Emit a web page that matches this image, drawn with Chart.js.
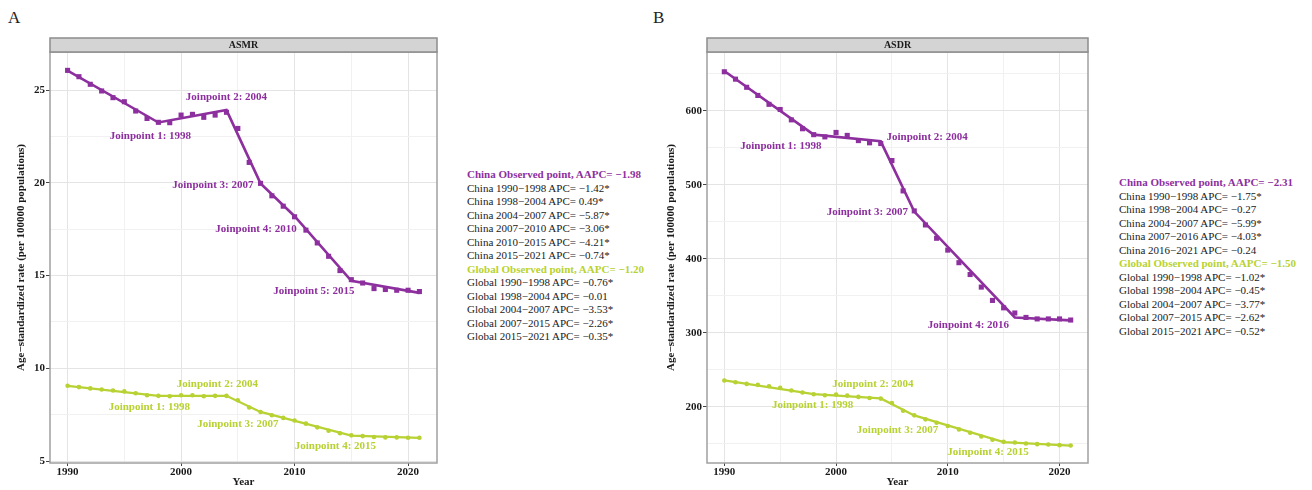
<!DOCTYPE html>
<html>
<head>
<meta charset="utf-8">
<script src="https://cdn.jsdelivr.net/npm/chart.js@4.4.0/dist/chart.umd.min.js"></script>
<style>
  body { margin: 0; background: #fff; width: 1312px; height: 490px; position: relative; overflow: hidden;
         font-family: "Liberation Serif", "Times New Roman", serif; }
  canvas { position: absolute; top: 0; }
  #cA { left: 0; }
  #cB { left: 650px; }
  .tag { position: absolute; top: 8px; font-size: 17px; color: #222; }
  .leg { position: absolute; font-size: 11px; line-height: 13.5px; color: #1a1a1a; white-space: nowrap; }
  .leg .obs { font-weight: bold; }
</style>
</head>
<body>
<div class="tag" style="left:8px">A</div>
<div class="tag" style="left:653px">B</div>
<canvas id="cA" width="445" height="490"></canvas>
<canvas id="cB" width="445" height="490"></canvas>
<div class="leg" id="legA" style="left:467px; top:168px"></div>
<div class="leg" id="legB" style="left:1119px; top:176px"></div>
<script>
const PURPLE = '#8d2f9e';
const GREEN = '#b7d232';
const FONT = '"Liberation Serif", "Times New Roman", serif';

const years = [1990, 1991, 1992, 1993, 1994, 1995, 1996, 1997, 1998, 1999, 2000, 2001, 2002, 2003, 2004, 2005,
               2006, 2007, 2008, 2009, 2010, 2011, 2012, 2013, 2014, 2015, 2016, 2017, 2018, 2019, 2020, 2021];
const xTicks = [1990, 1995, 2000, 2005, 2010, 2015, 2020];

// ASMR (panel A)
const chinaAsmr = [26.06, 25.72, 25.31, 24.95, 24.59, 24.37, 23.87, 23.47, 23.26, 23.24, 23.65, 23.69, 23.53, 23.65, 23.80, 22.93,
                   21.10, 19.97, 19.30, 18.74, 18.17, 17.45, 16.76, 16.04, 15.27, 14.78, 14.60, 14.30, 14.25, 14.21, 14.21, 14.14];
const chinaAsmrFitYears = [1990, 1998, 2004, 2007, 2010, 2015, 2021];
const chinaAsmrFit = [26.05, 23.25, 23.92, 19.97, 18.20, 14.72, 14.07];
const globalAsmr = [9.06, 8.99, 8.92, 8.86, 8.81, 8.76, 8.66, 8.55, 8.52, 8.50, 8.55, 8.55, 8.50, 8.52, 8.52, 8.28,
                    7.89, 7.65, 7.47, 7.33, 7.19, 7.02, 6.82, 6.64, 6.50, 6.39, 6.35, 6.30, 6.28, 6.28, 6.26, 6.26];
const globalAsmrFitYears = [1990, 1998, 2004, 2007, 2015, 2021];
const globalAsmrFit = [9.06, 8.52, 8.52, 7.65, 6.38, 6.25];
const asmrTicks = [5, 7.5, 10, 12.5, 15, 17.5, 20, 22.5, 25];

// ASDR (panel B)
const chinaAsdr = [653, 643, 632, 621, 609, 602, 588, 576, 568, 565, 571, 567, 560, 557, 556, 533,
                   492, 465, 446, 428, 412, 395, 379, 362, 344, 334, 327, 321, 319, 319, 319, 317.5];
const chinaAsdrFitYears = [1990, 1998, 2004, 2007, 2016, 2021];
const chinaAsdrFit = [654, 568, 559, 464, 321, 317];
const globalAsdr = [235.7, 233.5, 231.2, 229.9, 228.0, 225.8, 222.2, 219.5, 217.2, 215.8, 216.7, 215.4, 213.6, 212.2, 211.3, 205.4,
                    195.0, 188.7, 183.3, 178.7, 174.2, 169.7, 165.2, 160.2, 155.7, 152.9, 152.0, 150.7, 149.8, 149.3, 148.4, 148.0];
const globalAsdrFitYears = [1990, 1998, 2004, 2007, 2015, 2021];
const globalAsdrFit = [236, 217.4, 211.6, 188.6, 152.5, 147.8];
const asdrTicks = [150, 200, 250, 300, 350, 400, 450, 500, 550, 600, 650];

// joinpoint annotations: text, year, value
const asmrChinaLabels = [['Joinpoint 1: 1998', 1997.3, 22.53], ['Joinpoint 2: 2004', 2004.0, 24.6], ['Joinpoint 3: 2007', 2002.8, 19.88],
                         ['Joinpoint 4: 2010', 2006.6, 17.49], ['Joinpoint 5: 2015', 2011.7, 14.15]];
const asmrGlobalLabels = [['Joinpoint 1: 1998', 1997.2, 7.92], ['Joinpoint 2: 2004', 2003.2, 9.13], ['Joinpoint 3: 2007', 2005.0, 6.97],
                          ['Joinpoint 4: 2015', 2013.6, 5.81]];
const asdrChinaLabels = [['Joinpoint 1: 1998', 1995.06, 551.8], ['Joinpoint 2: 2004', 2008.15, 565.3], ['Joinpoint 3: 2007', 2002.8, 463.5],
                         ['Joinpoint 4: 2016', 2011.85, 310.8]];
const asdrGlobalLabels = [['Joinpoint 1: 1998', 1997.9, 202.7], ['Joinpoint 2: 2004', 2003.3, 230.7], ['Joinpoint 3: 2007', 2005.5, 168.5],
                          ['Joinpoint 4: 2015', 2013.6, 139.6]];

const legendA = ['China Observed point, AAPC= \u22121.98', 'China 1990\u22121998 APC= \u22121.42*', 'China 1998\u22122004 APC= 0.49*',
  'China 2004\u22122007 APC= \u22125.87*', 'China 2007\u22122010 APC= \u22123.06*', 'China 2010\u22122015 APC= \u22124.21*',
  'China 2015\u22122021 APC= \u22120.74*', 'Global Observed point, AAPC= \u22121.20', 'Global 1990\u22121998 APC= \u22120.76*',
  'Global 1998\u22122004 APC= \u22120.01', 'Global 2004\u22122007 APC= \u22123.53*', 'Global 2007\u22122015 APC= \u22122.26*',
  'Global 2015\u22122021 APC= \u22120.35*'];
const legendB = ['China Observed point, AAPC= \u22122.31', 'China 1990\u22121998 APC= \u22121.75*', 'China 1998\u22122004 APC= \u22120.27',
  'China 2004\u22122007 APC= \u22125.99*', 'China 2007\u22122016 APC= \u22124.03*', 'China 2016\u22122021 APC= \u22120.24',
  'Global Observed point, AAPC= \u22121.50', 'Global 1990\u22121998 APC= \u22121.02*', 'Global 1998\u22122004 APC= \u22120.45*',
  'Global 2004\u22122007 APC= \u22123.77*', 'Global 2007\u22122015 APC= \u22122.62*', 'Global 2015\u22122021 APC= \u22120.52*'];

function fillLegend(id, lines) {
  const el = document.getElementById(id);
  lines.forEach(t => {
    const d = document.createElement('div');
    d.textContent = t;
    if (t.includes('Observed')) {
      d.className = 'obs';
      d.style.color = t.startsWith('China') ? PURPLE : GREEN;
    }
    el.appendChild(d);
  });
}
fillLegend('legA', legendA);
fillLegend('legB', legendB);

const pts = (xs, ys) => xs.map((x, i) => ({ x: x, y: ys[i] }));

function decoPlugin(strip, labelSets) {
  return {
    id: 'panelDeco',
    afterDraw(chart) {
      const { ctx, chartArea: a, scales: { x, y } } = chart;
      ctx.save();
      ctx.strokeStyle = '#a0a0a0';
      ctx.lineWidth = 1.5;
      ctx.strokeRect(a.left, a.top, a.right - a.left, a.bottom - a.top);
      // facet strip
      ctx.fillStyle = '#d4d4d4';
      ctx.fillRect(a.left, a.top - 14, a.right - a.left, 14);
      ctx.strokeStyle = '#8c8c8c';
      ctx.strokeRect(a.left, a.top - 14, a.right - a.left, 14);
      ctx.fillStyle = '#1a1a1a';
      ctx.font = 'bold 10px ' + FONT;
      ctx.textAlign = 'center';
      ctx.textBaseline = 'middle';
      ctx.fillText(strip, (a.left + a.right) / 2, a.top - 6.5);
      // joinpoint labels
      ctx.font = 'bold 11px ' + FONT;
      labelSets.forEach(([labels, col]) => {
        ctx.fillStyle = col;
        labels.forEach(([t, lx, ly]) => ctx.fillText(t, x.getPixelForValue(lx), y.getPixelForValue(ly)));
      });
      ctx.restore();
    }
  };
}

function makeChart(id, opt) {
  const tickFont = { family: FONT, weight: 'bold', size: 11 };
  return new Chart(document.getElementById(id), {
    type: 'line',
    data: {
      datasets: [
        { data: pts(years, opt.china), showLine: false, pointStyle: 'rect', pointRadius: 3.6,
          backgroundColor: PURPLE, borderColor: PURPLE, pointBorderWidth: 0 },
        { data: pts(years, opt.global), showLine: false, pointStyle: 'circle', pointRadius: 2.3,
          backgroundColor: GREEN, borderColor: GREEN, pointBorderWidth: 0 },
        { data: pts(opt.chinaFitYears, opt.chinaFit), borderColor: PURPLE, borderWidth: 2.6, pointRadius: 0, tension: 0 },
        { data: pts(opt.globalFitYears, opt.globalFit), borderColor: GREEN, borderWidth: 2.3, pointRadius: 0, tension: 0 }
      ]
    },
    options: {
      responsive: false,
      animation: false,
      devicePixelRatio: 1,
      layout: { padding: { top: 52, right: opt.padRight, bottom: 0, left: 0 } },
      plugins: { legend: { display: false }, tooltip: { enabled: false } },
      scales: {
        x: {
          type: 'linear', min: 1988.45, max: 2022.55,
          afterBuildTicks: s => { s.ticks = xTicks.map(v => ({ value: v })); },
          afterFit: s => { s.height = 27; },
          ticks: { callback: v => (v % 10 === 0 ? String(v) : ''), autoSkip: false, maxRotation: 0,
                   color: '#1a1a1a', font: tickFont, padding: 0 },
          grid: { color: c => (c.tick && c.tick.value % 10 === 0 ? '#e4e4e4' : '#f1f1f1'),
                  tickColor: c => (c.tick && c.tick.value % 10 === 0 ? '#444' : 'rgba(0,0,0,0)'), tickLength: 3 },
          border: { display: false },
          title: { display: true, text: 'Year', color: '#1a1a1a', font: tickFont, padding: { top: 0, bottom: 1.5 } }
        },
        y: {
          type: 'linear', min: opt.yMin, max: opt.yMax,
          afterBuildTicks: s => { s.ticks = opt.yTicks.map(v => ({ value: v })); },
          afterFit: s => { s.width = opt.yWidth; },
          ticks: { callback: v => (v % opt.yMajor === 0 ? String(v) : ''), autoSkip: false,
                   color: '#1a1a1a', font: tickFont, padding: 1 },
          grid: { color: c => (c.tick && c.tick.value % opt.yMajor === 0 ? '#e4e4e4' : '#f1f1f1'),
                  tickColor: c => (c.tick && c.tick.value % opt.yMajor === 0 ? '#444' : 'rgba(0,0,0,0)'), tickLength: 4 },
          border: { display: false },
          title: { display: true, text: 'Age\u2212standardized rate (per 100000 populations)', color: '#1a1a1a',
                   font: tickFont, padding: { top: opt.titlePad, bottom: 0 } }
        }
      }
    },
    plugins: [decoPlugin(opt.strip, [[opt.chinaLabels, PURPLE], [opt.globalLabels, GREEN]])]
  });
}

makeChart('cA', {
  china: chinaAsmr, global: globalAsmr,
  chinaFitYears: chinaAsmrFitYears, chinaFit: chinaAsmrFit,
  globalFitYears: globalAsmrFitYears, globalFit: globalAsmrFit,
  yMin: 4.9, yMax: 27.05, yTicks: asmrTicks, yMajor: 5, yWidth: 50, titlePad: 14.4, padRight: 8,
  strip: 'ASMR', chinaLabels: asmrChinaLabels, globalLabels: asmrGlobalLabels
});

makeChart('cB', {
  china: chinaAsdr, global: globalAsdr,
  chinaFitYears: chinaAsdrFitYears, chinaFit: chinaAsdrFit,
  globalFitYears: globalAsdrFitYears, globalFit: globalAsdrFit,
  yMin: 124.3, yMax: 679.7, yTicks: asdrTicks, yMajor: 100, yWidth: 57, titlePad: 14.1, padRight: 7,
  strip: 'ASDR', chinaLabels: asdrChinaLabels, globalLabels: asdrGlobalLabels
});
</script>
</body>
</html>
